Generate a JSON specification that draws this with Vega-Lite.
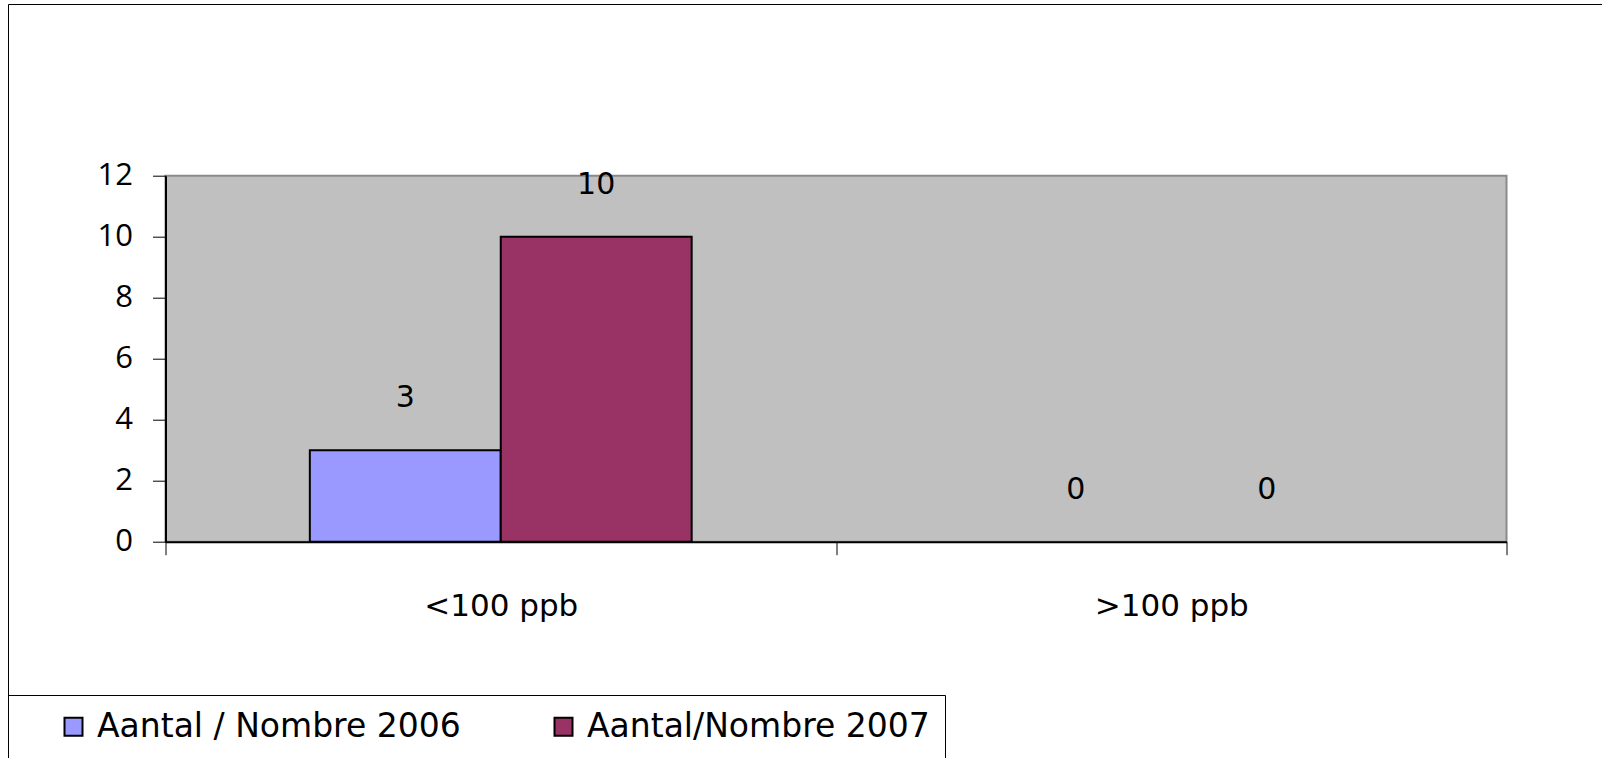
{
  "$schema": "https://vega.github.io/schema/vega-lite/v6.json",
  "width": 1341,
  "height": 366,
  "autosize": {"type": "none"},
  "padding": {"left": 165.5, "top": 175.7, "right": 95.5, "bottom": 216.3},
  "background": "white",
  "config": {
    "view": {"fill": "#C0C0C0", "stroke": "#8a8a8a", "strokeWidth": 2},
    "font": "DejaVu Sans"
  },
  "data": {
    "values": [
      {"category": "<100 ppb", "series": "Aantal / Nombre 2006", "value": 3},
      {"category": "<100 ppb", "series": "Aantal/Nombre 2007", "value": 10},
      {"category": ">100 ppb", "series": "Aantal / Nombre 2006", "value": 0},
      {"category": ">100 ppb", "series": "Aantal/Nombre 2007", "value": 0}
    ]
  },
  "encoding": {
    "x": {
      "field": "category",
      "type": "nominal",
      "sort": null,
      "scale": {"paddingInner": 0, "paddingOuter": 0},
      "axis": {
        "title": null,
        "labelAngle": 0,
        "labelFont": "DejaVu Sans",
        "labelFontSize": 31,
        "labelColor": "black",
        "labelBaseline": "middle",
        "labelPadding": 52,
        "tickBand": "extent",
        "tickSize": 13,
        "tickColor": "black",
        "tickWidth": 1,
        "domainColor": "black",
        "domainWidth": 2,
        "grid": false
      }
    },
    "xOffset": {
      "field": "series",
      "type": "nominal",
      "sort": null,
      "scale": {"paddingInner": 0, "paddingOuter": 0.756}
    },
    "y": {
      "field": "value",
      "type": "quantitative",
      "scale": {"domain": [0, 12], "nice": false},
      "axis": {
        "title": null,
        "values": [0, 2, 4, 6, 8, 10, 12],
        "labelFont": "Open Sans",
        "labelFontSize": 31,
        "labelColor": "black",
        "labelPadding": 20,
        "tickSize": 13,
        "tickColor": "black",
        "tickWidth": 1,
        "domainColor": "black",
        "domainWidth": 2,
        "grid": false
      }
    }
  },
  "layer": [
    {
      "transform": [{"filter": "datum.value > 0"}],
      "mark": {"type": "bar", "stroke": "black", "strokeWidth": 2},
      "encoding": {
        "color": {
          "field": "series",
          "type": "nominal",
          "sort": null,
          "scale": {"domain": ["Aantal / Nombre 2006", "Aantal/Nombre 2007"], "range": ["#9999FF", "#993366"]},
          "legend": {
            "title": null,
            "orient": "none",
            "legendX": -157.5,
            "legendY": 519.3,
            "direction": "horizontal",
            "columns": 2,
            "columnPadding": 52,
            "padding": 15,
            "strokeColor": "black",
            "symbolType": "square",
            "symbolSize": 324,
            "symbolStrokeColor": "black",
            "symbolStrokeWidth": 2,
            "symbolOpacity": 1,
            "symbolOffset": 34,
            "labelFont": "DejaVu Sans",
            "labelFontSize": 33,
            "labelColor": "black",
            "labelOffset": 7,
            "labelLimit": 600
          }
        }
      }
    },
    {
      "mark": {"type": "text", "fontSize": 30, "font": "DejaVu Sans", "color": "black", "baseline": "middle", "dy": -52},
      "encoding": {
        "text": {"field": "value", "type": "quantitative"},
        "opacity": {
          "datum": 1,
          "type": "quantitative",
          "scale": {"domain": [0, 1], "range": [1, 1]},
          "legend": {
            "title": null,
            "orient": "none",
            "legendX": -157.5,
            "legendY": -171.7,
            "values": [1],
            "padding": 800,
            "strokeColor": "black",
            "symbolSize": 0,
            "symbolOpacity": 0,
            "symbolStrokeWidth": 0,
            "labelFontSize": 1,
            "labelOpacity": 0,
            "labelExpr": "''"
          }
        }
      }
    }
  ]
}
